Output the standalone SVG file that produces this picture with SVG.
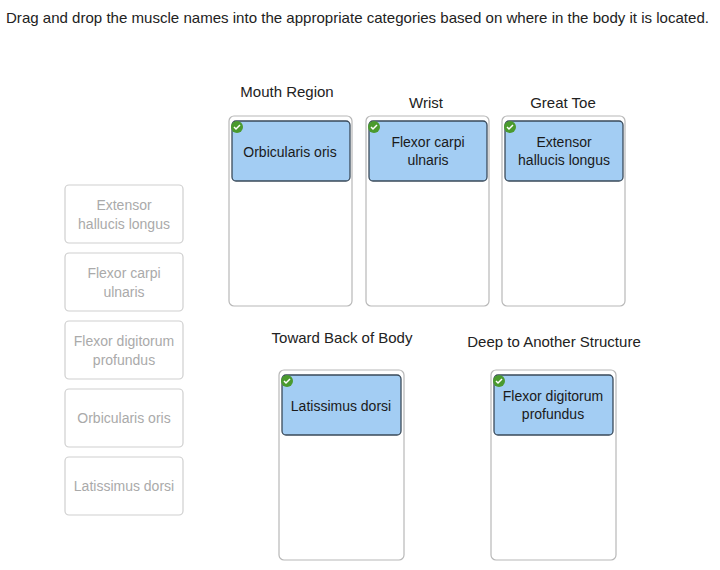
<svg xmlns="http://www.w3.org/2000/svg" width="720" height="570" viewBox="0 0 720 570">
<style>
text{font-family:"Liberation Sans",Arial,sans-serif;}
.t{font-size:15px;fill:#222;}
.h{font-size:15px;fill:#222;text-anchor:middle;}
.box{fill:#fff;stroke:#b8b8b8;stroke-width:1.2;}
.src{fill:#fff;stroke:#cfcfcf;stroke-width:1.2;}
.st{font-size:14px;fill:#aaa;text-anchor:middle;}
.card{fill:#a3cdf3;stroke:#3a4a5a;stroke-width:1.3;}
.ct{font-size:14px;fill:#1a1a1a;text-anchor:middle;}
.ck{fill:#4a9a2e;}
.cm{fill:none;stroke:#fff;stroke-width:1.5;}
</style>
<rect width="720" height="570" fill="#fff"/>
<text class="t" x="6" y="23" textLength="703" lengthAdjust="spacingAndGlyphs">Drag and drop the muscle names into the appropriate categories based on where in the body it is located.</text>
<g id="sources">
<rect class="src" x="65" y="185" width="118" height="58" rx="4"/><text class="st" x="124" y="210">Extensor</text><text class="st" x="124" y="229">hallucis longus</text>
<rect class="src" x="65" y="253" width="118" height="58" rx="4"/><text class="st" x="124" y="278">Flexor carpi</text><text class="st" x="124" y="297">ulnaris</text>
<rect class="src" x="65" y="321" width="118" height="58" rx="4"/><text class="st" x="124" y="346">Flexor digitorum</text><text class="st" x="124" y="365">profundus</text>
<rect class="src" x="65" y="389" width="118" height="58" rx="4"/><text class="st" x="124" y="423">Orbicularis oris</text>
<rect class="src" x="65" y="457" width="118" height="58" rx="4"/><text class="st" x="124" y="491">Latissimus dorsi</text>
</g>
<g id="mouth">
<text class="h" x="287" y="97">Mouth Region</text>
<rect class="box" x="229" y="116" width="123" height="190" rx="5"/>
<rect class="card" x="232" y="121" width="118" height="60" rx="4"/>
<text class="ct" x="290" y="157">Orbicularis oris</text>
<circle class="ck" cx="237" cy="127" r="6"/><path class="cm" d="M234 127l2 2 4-4"/>
</g>
<g id="wrist">
<text class="h" x="426" y="108">Wrist</text>
<rect class="box" x="366" y="116" width="123" height="190" rx="5"/>
<rect class="card" x="369" y="121" width="118" height="60" rx="4"/>
<text class="ct" x="428" y="147">Flexor carpi</text><text class="ct" x="428" y="165">ulnaris</text>
<circle class="ck" cx="374" cy="127" r="6"/><path class="cm" d="M371 127l2 2 4-4"/>
</g>
<g id="toe">
<text class="h" x="563" y="108">Great Toe</text>
<rect class="box" x="502" y="116" width="123" height="190" rx="5"/>
<rect class="card" x="505" y="121" width="118" height="60" rx="4"/>
<text class="ct" x="564" y="147">Extensor</text><text class="ct" x="564" y="165">hallucis longus</text>
<circle class="ck" cx="510" cy="127" r="6"/><path class="cm" d="M507 127l2 2 4-4"/>
</g>
<g id="back">
<text class="h" x="342" y="343">Toward Back of Body</text>
<rect class="box" x="279" y="370" width="125" height="190" rx="5"/>
<rect class="card" x="282" y="375" width="119" height="60" rx="4"/>
<text class="ct" x="341" y="411">Latissimus dorsi</text>
<circle class="ck" cx="287" cy="381" r="6"/><path class="cm" d="M284 381l2 2 4-4"/>
</g>
<g id="deep">
<text class="h" x="554" y="347">Deep to Another Structure</text>
<rect class="box" x="491" y="370" width="125" height="190" rx="5"/>
<rect class="card" x="494" y="375" width="119" height="60" rx="4"/>
<text class="ct" x="553" y="401">Flexor digitorum</text><text class="ct" x="553" y="419">profundus</text>
<circle class="ck" cx="499" cy="381" r="6"/><path class="cm" d="M496 381l2 2 4-4"/>
</g>
<g id="connectors"/>
</svg>
